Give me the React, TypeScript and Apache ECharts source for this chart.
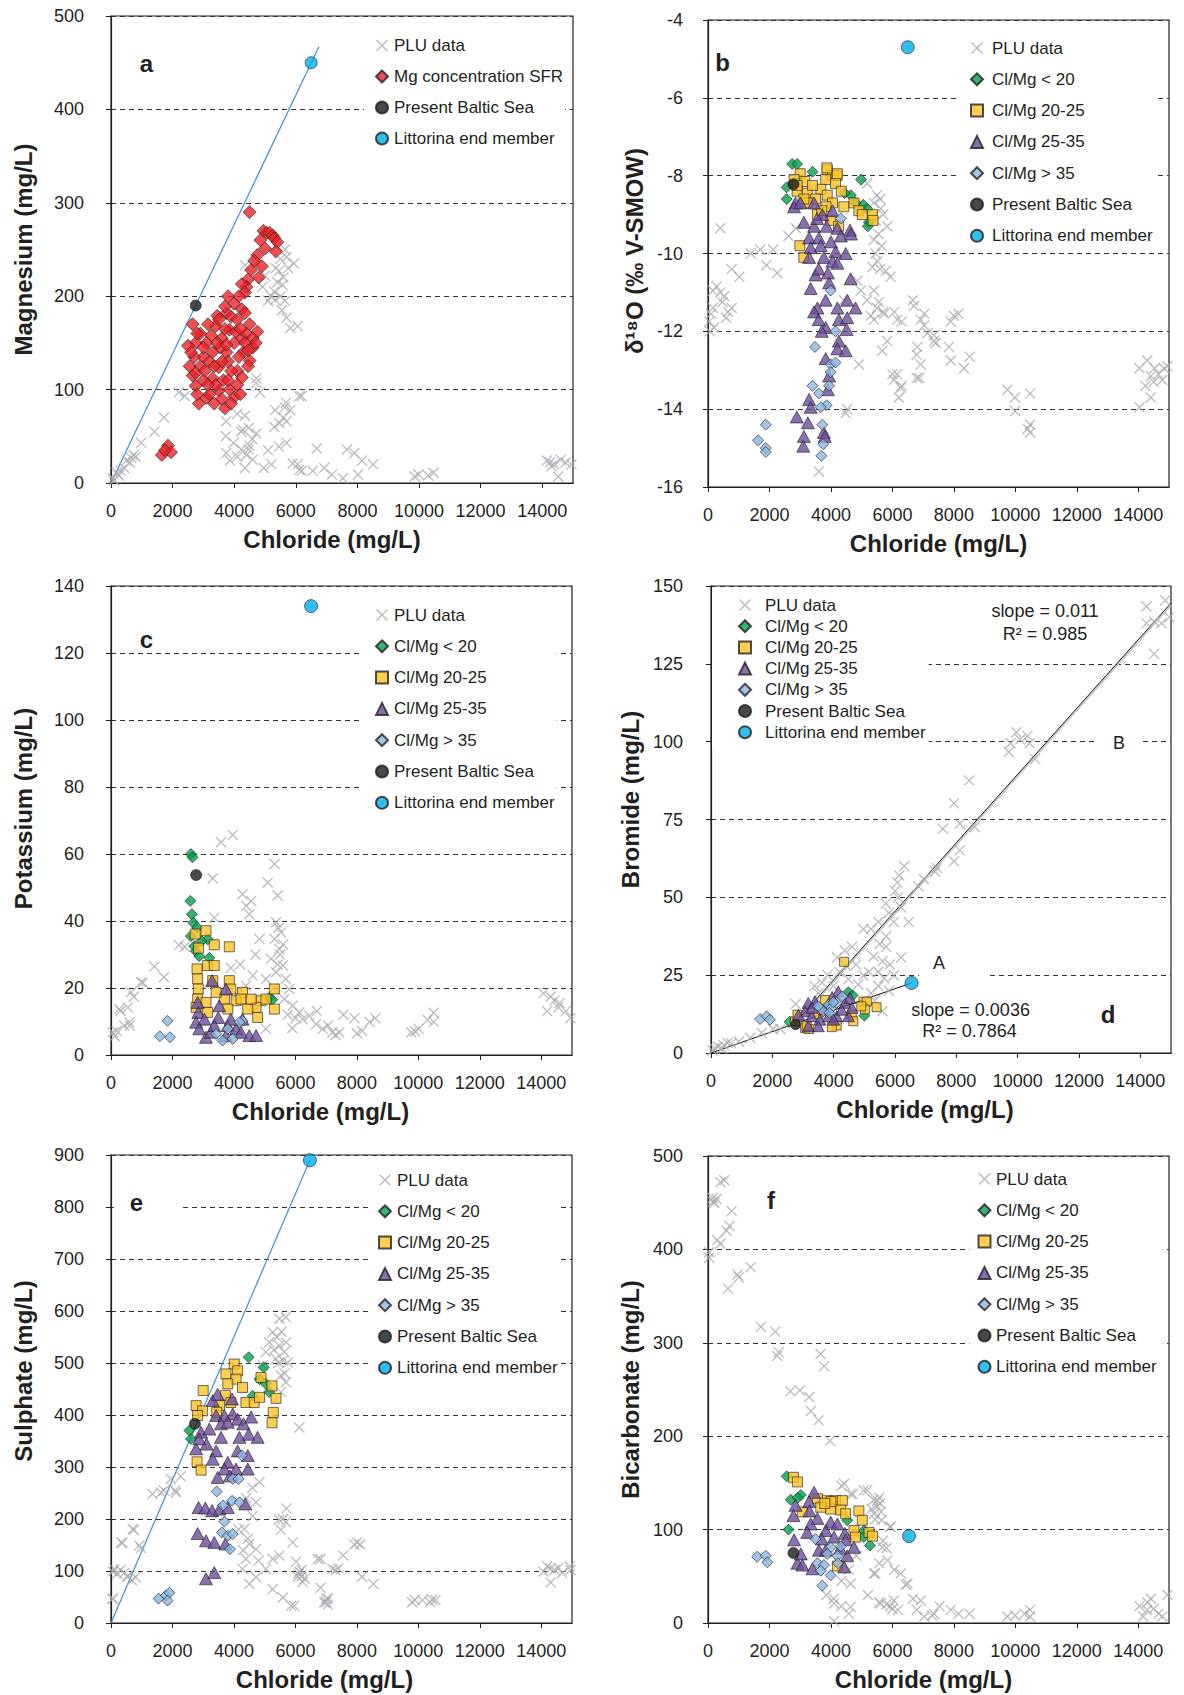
import React, { useEffect, useRef } from "react";
import * as echarts from "echarts";

const FONT = "'Liberation Sans', Arial, Helvetica, sans-serif";
const INK = "#231f20";
const GRAY = "#a7abb0";
const C_GREEN = "#00a14b";
const C_YELLOW = "#fbc326";
const C_PURPLE = "#6b4c9e";
const C_BLUE = "#88b6e2";
const C_LIT = "#00aeef";
const C_RED = "#ec2227";
const C_LINE = "#3a8fd8";
const CROSS = "path://M0,0.85L0.85,0L5,4.15L9.15,0L10,0.85L5.85,5L10,9.15L9.15,10L5,5.85L0.85,10L0,9.15L4.15,5Z";

// ---------- tick labels / names ----------
const xName = "Chloride (mg/L)";
const yNames = ["Magnesium (mg/L)", "δ¹⁸O (‰ V-SMOW)", "Potassium (mg/L)", "Bromide (mg/L)", "Sulphate (mg/L)", "Bicarbonate (mg/L)"];
const panelLetters = ["a", "b", "c", "d", "e", "f"];
const yRanges = [[0, 500, 100], [-16, -4, 2], [0, 140, 20], [0, 150, 25], [0, 900, 100], [0, 500, 100]];
const xRange = [0, 15000, 2000];

// ---------- panel a ----------
const aPLU = [[60,5],[180,11],[310,13],[430,16],[610,22],[735,30],[800,28],[980,43],[1410,55],[1720,70],[2200,97],[2390,93],[100,3],[250,8],[500,24],[660,27],
[3740,66],[4100,74],[4350,72],[4470,59],[4230,55],[3980,43],[3740,32],[3860,24],[4230,36],[4470,36],[4590,47],[4720,53],[4350,16],[4960,16],[5210,20],[5450,39],[5700,43],[5700,66],[5820,78],[5640,81],[5330,78],[6190,93],[6060,20],[6190,13],[6550,13],[6680,37],[6920,16],[7170,9],[7530,5],[7660,36],[7900,32],[8150,24],[8510,20],[8020,9],[9860,7],[9980,9],[10470,11],[10300,8],
[14150,24],[14390,20],[14760,22],[14950,20],[14520,7],[14300,18],[14600,25],[14250,22],
[4720,112],[4840,97],[4280,57],[4490,40],[5900,21],[6110,14],[5470,64],[5680,86],[6110,93],[4710,107],[3730,50],[4400,30],[4100,28],[4600,25],[5100,35],[5300,60],[5600,70],
[5450,227],[5570,212],[5510,200],[5330,196],[5700,242],[5940,235],[5390,254],[5700,177],[5820,166],[6060,168],[4720,235],[4920,210],[5200,200],[5600,220],[5500,240],[5650,250],[5750,230],[5400,215],[5300,205],[5650,195],[5100,195],[5550,185],[5350,230],[4350,233],[5000,222]];
const aSFR = [[4500,290],[4950,270],[5050,268],[5150,268],[5250,265],[5300,262],[5400,258],[5350,248],[5000,251],[4850,260],[4750,244],[4900,232],[4800,220],[4650,238],[4550,228],[4450,218],[4400,210],[4250,213],[4350,204],[4150,200],[3800,200],[4000,192],[4250,186],[4350,182],[3750,182],[3450,179],[3700,189],[3900,178],[4100,175],
[2650,170],[4500,170],[4750,162],[4250,155],[4600,145],[3750,140],[2750,150],[3000,135],[3500,124],[4100,120],[4500,131],[2550,125],[2750,104],[2850,85],[3100,91],[3500,99],[3700,80],[4000,92],[4250,113],[3300,112],[2500,147],[2700,135],[3250,158],[3850,164],[3400,168],[2900,160],[3100,150],[3600,155],[4000,150],[4400,160],[4300,140],[3800,130],[3300,140],[2900,125],[3200,130],[3550,145],[3900,120],[4150,135],[4450,125],[2650,115],[3000,110],[3400,105],[3650,110],[3850,100],[4100,105],[4200,95],[3600,90],[3200,95],[2800,95],[3350,85],[3900,85],[2600,140],[3700,165],[4050,162],[3150,170],[3500,175],[4600,155],[4700,150],[2800,160],[3450,150],[3750,148],[4200,165],[3000,145],[3600,130],[3350,125],[4350,150],[2750,118],[3050,120],[4450,142],[3800,110],[3150,105],
[1650,30],[1850,40],[1950,33],[1750,35]];
const aBaltic = [[2750,190]];
const aLit = [[6500,450]];
const aMixLine = [[0,0],[6750,467]];

// ---------- panel b ----------
const bPLU = [[40,-11.75],[160,-11.4],[280,-10.85],[400,-11.0],[530,-11.1],[650,-11.5],[770,-11.4],[590,-11.65],[160,-10.95],[470,-11.25],[100,-11.55],[60,-12.0],[200,-11.9],[400,-9.35],[1390,-10.0],[1700,-9.9],[2120,-9.9],[2250,-10.5],[770,-10.4],[1020,-10.6],[2620,-9.55],[2860,-9.35],[1900,-10.3],
[5400,-8.7],[5620,-8.85],[5460,-9.15],[5830,-9.3],[5400,-9.65],[5510,-10.2],[5350,-10.35],[5780,-10.45],[5940,-10.6],[5400,-10.95],[5560,-11.25],[5730,-11.55],[5400,-11.7],[6160,-11.7],[5670,-12.5],[5830,-12.25],[6050,-13.25],[6270,-13.45],[6210,-13.7],[6000,-13.1],[6700,-11.35],[6920,-11.7],[7140,-12.05],[7350,-12.25],[6810,-12.4],[6920,-12.85],[6870,-13.2],[4860,-10.7],[4970,-10.95],[5180,-11.2],[4430,-11.2],[4910,-12.85],[4530,-14.0],[4480,-14.1],[3610,-15.6],[5180,-8.2],[5500,-8.5],[5600,-8.6],[5700,-9.0],[5550,-9.5],[5650,-9.8],[5450,-10.0],[5600,-10.4],[5300,-11.6],[5500,-11.4],[5700,-11.5],[6300,-13.4],[6150,-13.1],
[6670,-11.2],[7040,-11.55],[7040,-11.85],[7350,-12.1],[7410,-12.3],[6790,-12.6],[6790,-13.2],[7900,-11.75],[8150,-11.55],[7840,-12.4],[7900,-12.75],[8330,-12.95],[8510,-12.65],[6300,-11.75],[6060,-11.5],[8000,-11.6],
[9740,-13.5],[9990,-13.7],[9990,-14.05],[10480,-13.6],[10480,-14.4],[10480,-14.6],[10400,-14.5],[14040,-12.95],[14290,-12.75],[14410,-13.15],[14530,-12.95],[14660,-13.1],[14840,-12.95],[14040,-13.95],[14410,-13.7],[14230,-13.4],[14780,-13.25],[14950,-12.9],[14500,-13.3]];
const bGreen = [[2740,-7.7],[2900,-7.7],[3400,-7.9],[4980,-8.1],[2560,-8.3],[2560,-8.6],[4650,-8.5],[5050,-8.75],[5180,-8.85],[5230,-9.2],[5200,-9.3],[4450,-8.45],[4800,-8.7]];
const bYellow = [[3000,-7.95],[3150,-8.15],[2900,-8.4],[3230,-8.45],[3880,-7.85],[4050,-8.0],[4190,-8.0],[3830,-8.1],[4150,-8.2],[4340,-8.4],[3670,-8.35],[3880,-8.5],[4050,-8.7],[3400,-8.25],[3500,-8.6],[3230,-8.7],[4420,-8.8],[4750,-8.7],[4910,-8.9],[5020,-9.0],[5350,-9.0],[5370,-9.15],[3840,-8.8],[2990,-9.8],[3120,-10.1],[3560,-9.0],[3990,-9.15],[2800,-8.1],[2900,-8.25],[3120,-8.6],[3870,-7.8],[4210,-7.95],[3700,-8.9],[4250,-9.3]];
const bPurple = [[2850,-8.7],[2800,-8.8],[3010,-8.7],[3450,-8.7],[3720,-9.0],[4050,-8.9],[3120,-9.2],[3450,-9.3],[3860,-9.3],[4210,-9.35],[4620,-9.4],[4320,-9.55],[3290,-9.6],[3610,-9.6],[3340,-9.85],[3670,-9.8],[4150,-9.95],[4480,-10.0],[3290,-10.1],[3770,-10.1],[4050,-10.2],[4210,-10.25],[3500,-10.55],[4640,-10.65],[3940,-10.75],[3340,-10.9],[3830,-11.2],[4530,-11.2],[4800,-11.4],[3560,-11.4],[3450,-11.5],[4210,-11.4],[4260,-11.7],[4530,-11.65],[3830,-11.9],[4510,-11.95],[4260,-12.25],[4210,-12.45],[4480,-12.5],[3830,-12.7],[3940,-13.15],[3290,-13.75],[3340,-13.95],[2890,-14.2],[3250,-14.35],[3120,-14.7],[3100,-14.95],[3770,-14.6],[3800,-14.7],[3600,-10.4],[3900,-10.5],[4000,-9.7],[3550,-9.1],[4650,-9.5],[3700,-12.0],[3900,-13.5],[3600,-11.7]];
const bBlue = [[4320,-9.1],[3990,-10.95],[4150,-12.0],[3480,-12.4],[3990,-12.85],[4150,-12.8],[3990,-13.05],[3400,-13.4],[3940,-13.4],[3610,-13.6],[3860,-13.9],[3670,-13.95],[1880,-14.4],[1630,-14.8],[1880,-15.0],[1880,-15.1],[3720,-14.4],[3750,-14.9],[3690,-15.2]];
const bBaltic = [[2780,-8.22]];
const bLit = [[6500,-4.7]];

// ---------- panel c ----------
const cPLU = [[60,6.7],[180,7.2],[430,8.8],[310,13.1],[550,14.2],[740,17.4],[1040,21.6],[1410,26.4],[1720,23.2],[2210,32.8],[2400,32.3],[610,8.8],[120,5.6],[270,13.7],[600,9.8],[650,18.7],[980,21.7],
[3580,63.5],[3960,65.7],[3310,52.7],[5320,57],[5100,51.5],[5420,47.6],[4560,46],[4280,48],[4500,42],[3360,41],[4400,44.5],
[5370,39.6],[5530,36.6],[5320,34.6],[5480,31.6],[5210,28.7],[5590,26.7],[5370,24.7],[5690,22.7],[5040,22.7],[5800,19.7],[5640,16.7],[5910,14.7],[6130,12.7],[6240,10.7],[6450,11.7],[6670,9.2],[6890,7.8],[7210,6.8],[4830,34.6],[4610,23.7],[4390,20.7],[4720,13.7],[5040,7.8],[5450,38],[5500,30],[5420,27],[5600,33],[5300,20],[5750,12],[5900,8],[6000,11],[4200,27],[4700,30],[3900,26],[4100,18],
[6700,13.1],[7060,8.8],[7430,6.7],[7560,12],[7920,11],[8170,7.2],[8410,9.9],[8600,11],[7300,6],[8000,6.5],[9770,6.7],[10010,7.8],[10500,9.9],[10500,12.6],[9900,7],[10300,10.5],
[14070,18.4],[14190,13.1],[14430,16.3],[14560,14.2],[14800,13.1],[14950,11],[14310,17.4],[14600,15.5]];
const cGreen = [[2600,60],[2650,59],[2580,46],[2630,42],[2680,39.5],[2600,35.5],[2710,32.5],[2760,31],[3150,34.5],[2870,29.5],[3200,29],[5150,17],[5250,16.5],[2800,38],[2950,34]];
const cYellow = [[2740,36.1],[3090,37.1],[3360,32.9],[3850,32.3],[2850,31.9],[2800,25.7],[3145,26.7],[3360,26.7],[2820,22.7],[2840,19.7],[2820,16.7],[3310,22.2],[3850,22.2],[3900,19.7],[4280,18.7],[3690,16.7],[4070,16.2],[4230,16.7],[4880,16.2],[5315,19.7],[5315,13.7],[4720,14.2],[4450,13.7],[4770,11.2],[3800,13.7],[3090,15.7],[3420,18.7],[3145,12.7],[5040,16.7],[4560,16.7],[2770,14.2]];
const cPurple = [[3290,22.2],[3740,19.7],[2820,15.7],[2840,12.7],[2770,9.8],[2870,7.8],[3090,5.3],[3250,6.8],[3490,11.2],[3520,14.7],[3800,8.8],[4070,7.8],[4230,6.8],[4500,5.8],[4720,5.8],[3900,10.7],[3360,8.8],[3040,10.7],[3740,5.8],[4280,10.7]];
const cBlue = [[1840,10.2],[1590,5.6],[1920,5.3],[3420,6.3],[3630,4.3],[3960,4.8],[4280,10.2],[3800,7.8],[4180,9.8]];
const cBaltic = [[2770,53.7]];
const cLit = [[6510,134]];

// ---------- panel d ----------
const dPLU = [[50,0.8],[230,2],[420,2.5],[660,3.1],[910,3.7],[1280,4.8],[1650,6.5],[2020,7.7],[2260,7.7],[360,1.4],[540,3.3],[120,1.5],
[14200,143.4],[14815,145.4],[14450,138.6],[14690,138],[14950,140],[14450,128.2],[14200,138],
[9710,96.7],[9955,103],[10080,100.7],[10390,99.5],[10570,94.4],[9770,99.5],[10320,101.8],
[8420,87.5],[7925,80.2],[7560,72],[8110,73.7],[8600,72.6],[8110,65.1],[7925,61.6],[7370,59.4],[6940,55.9],[6760,53.6],[7310,58.2],[6140,57],[6080,54.8],[6200,46.7],[5960,42.1],[6450,42.1],[5710,37.5],[5460,42.1],[5220,39.8],[5710,34.1],[4970,39.8],[4600,34.1],[4360,32.9],[4110,30.7],[4730,28.4],[5460,26.1],[5830,28.4],[6200,30.7],[5460,21.5],[5220,19.2],[4970,24.9],[4480,23.8],[3990,21.5],[3620,22.6],[3370,21.5],[2760,15.7],[3500,19.2],[5340,16.9],[5590,13.4],[5960,24.9],[5590,29.5],
[6100,50],[5800,45],[5700,48],[6000,52],[6300,60],[5500,35],[5300,31],[5150,26],[4800,22],[5650,24],[5800,20],[4400,28],[4200,26],[3800,25]];
const dGreen = [[2560,10],[4480,19.5],[5000,12],[4620,18.5]];
const dYellow = [[4340,29.3],[4970,16.5],[5080,16.5],[5020,14],[5400,14.7],[4100,8.8],[3940,8.3],[3070,8],[3190,7.7],[2740,10.2],[2820,12.3],[4590,12.3],[4640,10.2],[3720,17],[3120,8.6],[4900,15],[3500,12.5]];
const dPurple = [[3170,16.1],[3390,16.6],[3070,13.4],[3280,11.8],[3550,10.7],[3500,8.6],[3170,8.6],[4150,19.8],[4370,16.1],[4530,17.7],[4100,11.8],[4480,11.8],[4260,13.9],[3830,11.8],[2850,12.3],[4000,10.7],[3700,14],[3950,18],[4600,14.5],[3300,14.5]];
const dBlue = [[1600,10.9],[1815,11.8],[1920,10.7],[3550,14.5],[3830,15.5],[3930,14.5],[4280,18.2],[4100,16.1],[3660,13.4],[3500,15],[3860,12.9],[3990,16.3]];
const dBaltic = [[2760,9.1]];
const dLit = [[6540,22.5]];
const dTrendA = [[0,0],[6540,22.5]];
const dTrendB = [[2700,9.2],[15000,144.5]];
const dTrendBShadow = [[2760,9.2],[15000,143.8]];

// ---------- panel e ----------
const ePLU = [[60,47],[60,99],[310,102],[550,89],[680,82],[370,154],[740,179],[980,144],[1350,248],[1720,255],[2090,255],[2270,282],[430,96],[1630,251],[2120,251],[1950,277],[710,181],[330,155],[920,149],[110,104],[540,91],[50,46],[200,95],[800,88],
[5480,585],[5690,588],[5260,559],[5150,540],[5480,533],[5640,521],[5370,508],[5750,501],[5040,521],[4940,495],[5530,476],[5690,463],[5530,444],[6130,376],[5400,550],[5600,505],[5300,525],[5700,540],[5550,560],[5450,500],[5650,480],
[4830,271],[4720,232],[4610,206],[4340,181],[4450,162],[4500,152],[4720,142],[4390,123],[4280,104],[4720,88],[4500,75],[5040,104],[5260,123],[5480,130],[5590,200],[5690,194],[5910,155],[6020,118],[6130,99],[6240,79],[5260,65],[5590,49],[5860,33],[6730,123],[7210,104],[7000,46],[4400,240],[4600,260],[4150,180],[4300,140],[4800,120],[6200,90],[6300,85],[6100,95],[7000,40],[7050,35],
[5470,199],[5710,220],[5530,179],[6200,102],[6080,89],[5960,33],[6820,123],[6820,68],[6940,40],[7060,47],[7310,102],[7550,130],[7920,151],[8110,151],[8000,155],[8170,89],[8540,75],[7400,105],
[9890,44],[10130,44],[10380,40],[10560,44],[9800,40],[10450,45],
[14070,99],[14190,109],[14430,102],[14680,96],[14930,109],[14310,78],[14560,106],[14950,102],[14300,105]];
const eGreen = [[4480,511],[4970,492],[2550,370],[5040,460],[5150,444],[4610,437],[4830,469],[2600,354]];
const eYellow = [[4010,498],[4120,485],[3740,479],[4070,469],[4280,453],[3800,460],[3000,447],[3720,438],[2770,418],[2980,408],[4390,424],[4660,424],[4880,472],[5240,456],[5370,432],[5280,405],[5240,385],[2820,399],[3530,418],[2800,310],[2930,294],[4830,434],[3900,424],[3440,405]];
const ePurple = [[3310,428],[3470,440],[3940,431],[3420,399],[3690,399],[3960,402],[4120,392],[4310,383],[4560,396],[2930,367],[3200,373],[3580,383],[3800,386],[3580,357],[4180,357],[4480,363],[4770,357],[2770,335],[3110,344],[3420,331],[3800,309],[4120,331],[4450,322],[3310,315],[3690,296],[4070,296],[4450,296],[3470,280],[3870,283],[2850,222],[3070,221],[3290,216],[3530,219],[3800,222],[4370,229],[2820,172],[3090,158],[3360,155],[3720,152],[3090,85],[3360,97],[2870,354]];
const eBlue = [[4260,322],[3960,277],[4150,277],[3440,253],[3650,226],[3940,235],[4180,232],[3690,195],[3610,174],[3800,168],[3960,171],[3870,142],[1550,47],[1790,53],[1900,58],[1840,43]];
const eBaltic = [[2730,383]];
const eLit = [[6470,890]];
const eMixLine = [[0,0],[6470,890]];

// ---------- panel f ----------
const fPLU = [[40,391],[40,397],[160,451],[280,454],[400,472],[530,474],[770,441],[700,425],[400,406],[650,358],[960,373],[1390,381],[1720,317],[2190,312],[2250,286],[2300,290],[2680,248],[2990,249],[3290,242],[3350,227],[3600,217],[3970,195],[3660,288],[3780,275],[200,450],[150,455],[600,420],[300,410],[1000,370],
[4340,147],[4710,138],[5070,142],[5380,132],[5570,134],[5320,122],[5630,119],[5440,111],[5930,103],[5690,88],[5810,80],[5570,64],[5440,53],[6060,57],[6430,41],[4830,72],[4580,57],[4340,45],[4090,26],[4340,18],[4580,10],[3850,30],[5200,30],[5570,22],[5930,18],[6180,14],[6670,26],[6790,14],[7040,7],[7290,8],[7530,18],[7900,14],[8150,10],[8510,10],[4430,149],[4640,138],[5180,142],[5510,131],[5400,117],[5940,103],[5670,81],[5840,67],[5400,53],[6270,53],[4640,42],[4100,21],[4640,17],[5620,21],[6050,24],[6490,42],[6920,24],[7350,10],[5500,125],[5600,128],[5650,110],[4100,2],[5800,20],[6000,15],
[9740,7],[9990,8],[10480,14],[10480,7],[10300,10],
[14040,18],[14290,14],[14410,26],[14160,7],[14660,10],[14950,30],[14780,7],[14500,15],[14300,22]];
const fGreen = [[2560,157],[2620,100],[2690,132],[3020,137],[5270,83],[5080,99],[4530,110],[5070,92],[2920,134]];
const fYellow = [[2780,156],[2910,151],[3880,131],[4150,131],[4370,131],[3990,122],[4320,121],[4480,117],[4910,120],[5020,110],[4750,99],[4800,92],[5240,97],[5350,93],[4210,61],[3070,119],[3560,133],[3670,124],[4000,130],[3800,128]];
const fPurple = [[3450,140],[3290,130],[2850,126],[2780,115],[3560,112],[3340,106],[2800,89],[3990,108],[4210,106],[4450,96],[3830,99],[3230,97],[2910,64],[3070,62],[3400,58],[3610,78],[4480,89],[4530,72],[4430,60],[4750,81],[3830,78],[3020,74],[4100,92],[3300,120],[3700,90],[4300,80]];
const fBlue = [[1600,71],[1880,72],[1930,65],[3500,90],[3990,81],[4320,82],[4210,72],[3560,64],[3770,62],[3670,56],[3990,51],[3720,40],[3880,74],[4230,64]];
const fBaltic = [[2780,75]];
const fLit = [[6540,93]];

// ---------- legend names ----------
const N_PLU = "PLU data";
const N_SFR = "Mg concentration SFR";
const N_G = "Cl/Mg < 20";
const N_Y = "Cl/Mg 20-25";
const N_P = "Cl/Mg 25-35";
const N_B = "Cl/Mg > 35";
const N_BAL = "Present Baltic Sea";
const N_LIT = "Littorina end member";
const legendA = [N_PLU, N_SFR, N_BAL, N_LIT];
const legendGroups = [N_PLU, N_G, N_Y, N_P, N_B, N_BAL, N_LIT];

// ---------- layout (positions and styles) ----------
const layout = [
  { grid: { left: 111, top: 16, width: 462, height: 467 }, yGap: 76, yPadL: 0, xPadR: 20, yLM: 27,
    lg: { left: 364, top: 31, gap: 14, pad: [6, 2, 6, 11], tpad: 1 }, letter: [146.5, 63] },
  { grid: { left: 708, top: 20, width: 461, height: 467 }, yGap: 62, yPadL: 5, xPadR: 0, yLM: 25,
    lg: { left: 960, top: 33.5, gap: 14.3, pad: [6, 3, 6, 10], tpad: 4 }, letter: [722.6, 62.5] },
  { grid: { left: 111, top: 586, width: 461, height: 469 }, yGap: 76, yPadL: 24, xPadR: 42, yLM: 27,
    lg: { left: 362, top: 600.5, gap: 14.3, pad: [6, 2, 6, 13], tpad: 1 }, letter: [146.5, 639] },
  { grid: { left: 711, top: 586, width: 460, height: 467 }, yGap: 69, yPadL: 40, xPadR: 32, yLM: 28,
    lg: { left: 712, top: 590.5, gap: 4.2, pad: [6, 3, 9, 26], tpad: 9 }, letter: [1108, 1014] },
  { grid: { left: 111, top: 1155, width: 461, height: 468 }, yGap: 76, yPadL: 36, xPadR: 34, yLM: 27,
    lg: { left: 372, top: 1165.5, gap: 14.3, pad: [6, 2, 6, 6], tpad: 1 }, letter: [146.5, 1202] },
  { grid: { left: 708, top: 1156, width: 461, height: 467 }, yGap: 66, yPadL: 0, xPadR: 30, yLM: 25,
    lg: { left: 969.5, top: 1164.5, gap: 14.3, pad: [6, 6, 6, 8], tpad: 0.5 }, letter: [771, 1200] },
];

function sc(name: string, data: number[][], gi: number, symbol: string, size: any, color: string, plu = false) {
  return {
    type: "scatter", name, data, xAxisIndex: gi, yAxisIndex: gi, symbol, symbolSize: size,
    itemStyle: plu ? { color, borderWidth: 0 } : { color, borderColor: INK, borderWidth: 0.8 },
    z: 3, silent: true,
  };
}
function ln(data: number[][], gi: number, color: string, width: number, z = 3) {
  return {
    type: "line", data, xAxisIndex: gi, yAxisIndex: gi, symbol: "none", silent: true,
    lineStyle: { color, width }, z,
  };
}

function groupSeries(gi: number, plu: number[][], g: number[][], y: number[][], p: number[][], b: number[][], bal: number[][], lit: number[][], s: any) {
  return [
    sc(N_PLU, plu, gi, CROSS, 11, GRAY, true),
    sc(N_G, g, gi, "diamond", s.d, C_GREEN),
    sc(N_Y, y, gi, "rect", s.r, C_YELLOW),
    sc(N_P, p, gi, "triangle", s.t, C_PURPLE),
    sc(N_B, b, gi, "diamond", s.d, C_BLUE),
    sc(N_BAL, bal, gi, "circle", s.bal, "#1a1a1a"),
    sc(N_LIT, lit, gi, "circle", s.lit, C_LIT),
  ];
}

function buildOption() {
  const grids = layout.map((l) => ({ ...l.grid, show: true, borderColor: INK, borderWidth: 1.2, backgroundColor: "transparent" }));
  const xAxes = layout.map((l, i) => ({
    gridIndex: i, type: "value", min: xRange[0], max: xRange[1], interval: xRange[2],
    axisLine: { show: true, onZero: false, lineStyle: { color: INK, width: 1.2 } },
    axisTick: { show: true, length: 5, lineStyle: { color: INK } },
    axisLabel: { showMaxLabel: false, margin: 19, fontSize: 18, color: INK, fontFamily: FONT, formatter: (v: number) => String(v) },
    splitLine: { show: false },
    name: xName, nameLocation: "middle", nameGap: 44,
    nameTextStyle: { fontSize: 24, fontWeight: "bold", color: INK, fontFamily: FONT, padding: [0, l.xPadR, 0, 0] },
  }));
  const yAxes = layout.map((l, i) => ({
    gridIndex: i, type: "value", min: yRanges[i][0], max: yRanges[i][1], interval: yRanges[i][2],
    axisLine: { show: true, onZero: false, lineStyle: { color: INK, width: 1.2 } },
    axisTick: { show: true, length: 5, lineStyle: { color: INK } },
    axisLabel: { margin: l.yLM, fontSize: 18, color: INK, fontFamily: FONT, formatter: (v: number) => String(v) },
    splitLine: { show: true, lineStyle: { color: "#333", width: 1, type: [5, 4] } },
    name: yNames[i], nameLocation: "middle", nameGap: l.yGap,
    nameTextStyle: { fontSize: 24, fontWeight: "bold", color: INK, fontFamily: FONT, padding: [0, 0, 0, l.yPadL] },
  }));
  const legends = layout.map((l, i) => ({
    show: true, orient: "vertical", left: l.lg.left, top: l.lg.top,
    itemWidth: 12, itemHeight: 12, itemGap: l.lg.gap, padding: l.lg.pad,
    backgroundColor: "#ffffff", selectedMode: false, z: 5, symbolKeepAspect: true,
    data: i === 0 ? legendA : legendGroups,
    textStyle: { fontSize: 17, color: INK, fontFamily: FONT, padding: [0, 0, 0, l.lg.tpad] },
  }));

  const big = { d: 11, r: 10, t: [13, 12], bal: 11, lit: 13 };
  const small = { d: 11, r: 9, t: [12, 11], bal: 10, lit: 13 };
  const series: any[] = [
    sc(N_PLU, aPLU, 0, CROSS, 11, GRAY, true),
    ln(aMixLine, 0, C_LINE, 1.2),
    sc(N_SFR, aSFR, 0, "diamond", 13, C_RED),
    sc(N_BAL, aBaltic, 0, "circle", 11, "#1a1a1a"),
    sc(N_LIT, aLit, 0, "circle", 12, C_LIT),
    ...groupSeries(1, bPLU, bGreen, bYellow, bPurple, bBlue, bBaltic, bLit, big),
    ...groupSeries(2, cPLU, cGreen, cYellow, cPurple, cBlue, cBaltic, cLit, big),
    ln(dTrendBShadow, 3, "#c3c6ca", 1.6, 2),
    ln(dTrendB, 3, "#111", 1, 2),
    ln(dTrendA, 3, "#111", 1, 2),
    ...groupSeries(3, dPLU, dGreen, dYellow, dPurple, dBlue, dBaltic, dLit, small),
    ln(eMixLine, 4, C_LINE, 1.2, 2),
    ...groupSeries(4, ePLU, eGreen, eYellow, ePurple, eBlue, eBaltic, eLit, big),
    ...groupSeries(5, fPLU, fGreen, fYellow, fPurple, fBlue, fBaltic, fLit, big),
  ];

  const txt = (text: string, x: number, y: number, size: number, bold: boolean, extra: any = {}) => ({
    type: "text", x, y, z: 1, silent: true,
    style: { text, fontSize: size, fontWeight: bold ? "bold" : "normal", fontFamily: FONT, fill: INK, align: "center", verticalAlign: "middle", ...extra },
  });
  const graphic: any[] = layout.map((l, i) =>
    i === 4
      ? txt(panelLetters[i], l.letter[0], l.letter[1], 24, true, { backgroundColor: "#fff", padding: [3, 36, 8, 16] })
      : txt(panelLetters[i], l.letter[0], l.letter[1], 24, true)
  );
  graphic.push(
    txt("slope = 0.011", 1045, 611, 18, false, { backgroundColor: "#fff" }),
    txt("R² = 0.985", 1045, 634, 18, false, { backgroundColor: "#fff" }),
    txt("B", 1119, 743, 18, false, { backgroundColor: "#fff", padding: [3, 17, 3, 17] }),
    txt("A", 952.5, 963, 18, false, { backgroundColor: "#fff", padding: [3, 41, 7, 14] }),
    txt("slope = 0.0036", 970.6, 1009.6, 18, false),
    txt("R² = 0.7864", 969.5, 1031, 18, false),
  );

  return {
    animation: false,
    backgroundColor: "#ffffff",
    textStyle: { fontFamily: FONT },
    grid: grids, xAxis: xAxes, yAxis: yAxes, legend: legends, series, graphic,
  };
}

export default function App() {
  const ref = useRef<HTMLDivElement>(null);
  useEffect(() => {
    const chart = echarts.init(ref.current!, null, { renderer: "svg" });
    chart.setOption(buildOption() as any);
    return () => chart.dispose();
  }, []);
  return <div ref={ref} style={{ position: "absolute", left: 0, top: 0, width: 1184, height: 1695, background: "#fff" }} />;
}
